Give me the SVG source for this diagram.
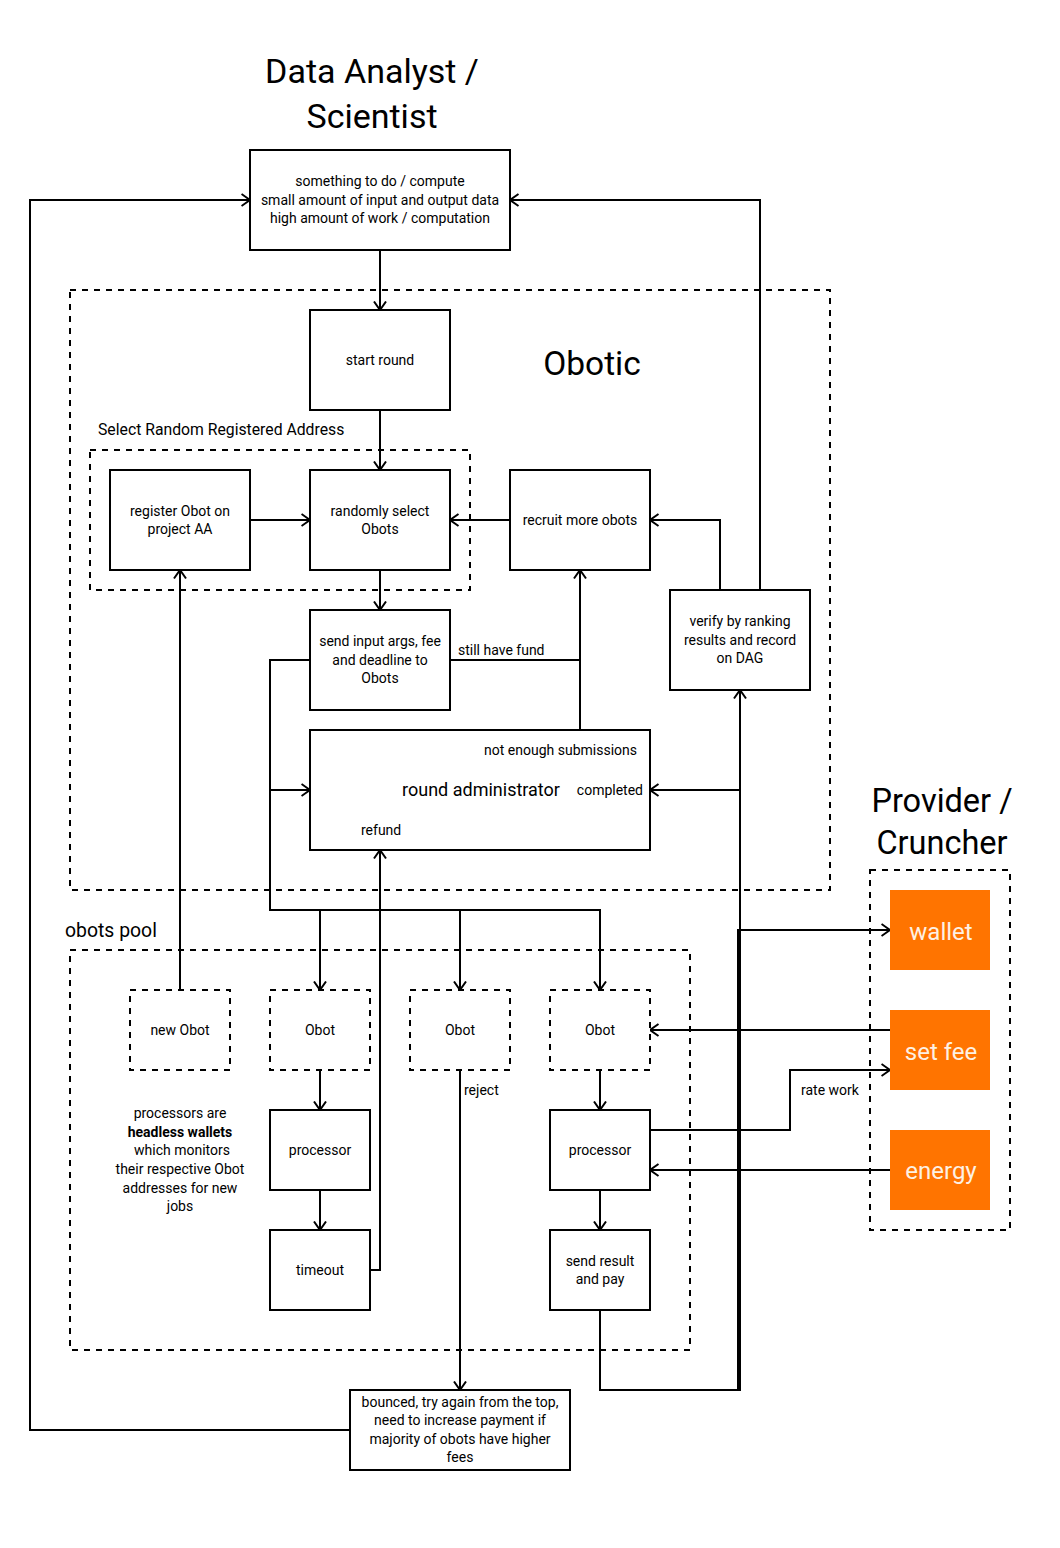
<svg xmlns="http://www.w3.org/2000/svg" width="1060" height="1548" viewBox="0 0 1060 1548">
<defs>
<marker id="arr" viewBox="0 0 10 14" markerWidth="10" markerHeight="14" refX="9.5" refY="7" orient="auto" markerUnits="userSpaceOnUse">
<path d="M1,1 L9.5,7 L1,13" fill="none" stroke="#000" stroke-width="2"/>
</marker>
</defs>
<style>
text{font-family:Roboto,"Liberation Sans",sans-serif;fill:#000}
.s{font-size:14px;text-anchor:middle}
.l{font-size:14px}
.box{fill:#fff;stroke:#000;stroke-width:2}
.dbox{fill:#fff;stroke:#000;stroke-width:2;stroke-dasharray:6 6}
.grp{fill:none;stroke:#000;stroke-width:2;stroke-dasharray:6 6}
.org{fill:#ff7400;stroke:none}
.ot{font-size:24px;text-anchor:middle;fill:#fdf1e4}
.title{text-anchor:middle}
.c{fill:none;stroke:#000;stroke-width:2}
.a{marker-end:url(#arr)}
</style>
<rect width="1060" height="1548" fill="#fff"/>

<g id="groups">
<rect class="grp" x="70" y="290" width="760" height="600"/>
<rect class="grp" x="90" y="450" width="380" height="140"/>
<rect class="grp" x="70" y="950" width="620" height="400"/>
<rect class="grp" x="870" y="870" width="140" height="360"/>
</g>

<g id="labels">
<text class="title" x="372" y="83" style="font-size:34px">Data Analyst /</text>
<text class="title" x="372" y="128" style="font-size:34px">Scientist</text>
<text class="title" x="592" y="375" style="font-size:33.5px">Obotic</text>
<text class="title" x="942" y="812" style="font-size:32.5px">Provider /</text>
<text class="title" x="942" y="854" style="font-size:32.5px">Cruncher</text>
<text x="98" y="435" style="font-size:15.75px">Select Random Registered Address</text>
<text x="65" y="937" style="font-size:19.4px">obots pool</text>
<text class="s" x="180" y="1118">processors are</text>
<text class="s" x="180" y="1137" style="font-weight:bold">headless wallets</text>
<text class="s" x="182" y="1155">which monitors</text>
<text class="s" x="180" y="1174">their respective Obot</text>
<text class="s" x="180" y="1193">addresses for new</text>
<text class="s" x="180" y="1211">jobs</text>
</g>

<g id="connectors">
<path class="c a" d="M380,250 V310"/>
<path class="c a" d="M380,410 V470"/>
<path class="c a" d="M250,520 H310"/>
<path class="c a" d="M510,520 H450"/>
<path class="c a" d="M380,570 V610"/>
<path class="c a" d="M580,730 V570"/>
<path class="c" d="M450,660 H580"/>
<path class="c a" d="M720,590 V520 H650"/>
<path class="c a" d="M760,590 V200 H510"/>
<path class="c a" d="M310,660 H270 V910 H600 V990"/>
<path class="c a" d="M270,790 H310"/>
<path class="c a" d="M320,910 V990"/>
<path class="c a" d="M460,910 V990"/>
<path class="c a" d="M180,990 V570"/>
<path class="c a" d="M370,1270 H380 V850"/>
<path class="c a" d="M320,1070 V1110"/>
<path class="c a" d="M320,1190 V1230"/>
<path class="c a" d="M460,1070 V1390"/>
<path class="c a" d="M600,1070 V1110"/>
<path class="c a" d="M600,1190 V1230"/>
<path class="c a" d="M600,1310 V1390 H740 V690"/>
<path class="c a" d="M740,790 H650"/>
<path class="c a" d="M600,1390 H738 V930 H890"/>
<path class="c a" d="M890,1030 H650"/>
<path class="c a" d="M650,1130 H790 V1070 H890"/>
<path class="c a" d="M890,1170 H650"/>
<path class="c a" d="M350,1430 H30 V200 H250"/>
<text class="l" x="458" y="655">still have fund</text>
<text class="l" x="464" y="1095">reject</text>
<text class="s" x="830" y="1095">rate work</text>
</g>

<g id="n-task">
<rect class="box" x="250" y="150" width="260" height="100"/>
<text class="s" x="380" y="186">something to do / compute</text>
<text class="s" x="380" y="205">small amount of input and output data</text>
<text class="s" x="380" y="223">high amount of work / computation</text>
</g>
<g id="n-start">
<rect class="box" x="310" y="310" width="140" height="100"/>
<text class="s" x="380" y="365">start round</text>
</g>
<g id="n-register">
<rect class="box" x="110" y="470" width="140" height="100"/>
<text class="s" x="180" y="516">register Obot on</text>
<text class="s" x="180" y="534">project AA</text>
</g>
<g id="n-randomly">
<rect class="box" x="310" y="470" width="140" height="100"/>
<text class="s" x="380" y="516">randomly select</text>
<text class="s" x="380" y="534">Obots</text>
</g>
<g id="n-recruit">
<rect class="box" x="510" y="470" width="140" height="100"/>
<text class="s" x="580" y="525">recruit more obots</text>
</g>
<g id="n-verify">
<rect class="box" x="670" y="590" width="140" height="100"/>
<text class="s" x="740" y="626">verify by ranking</text>
<text class="s" x="740" y="645">results and record</text>
<text class="s" x="740" y="663">on DAG</text>
</g>
<g id="n-send">
<rect class="box" x="310" y="610" width="140" height="100"/>
<text class="s" x="380" y="646">send input args, fee</text>
<text class="s" x="380" y="665">and deadline to</text>
<text class="s" x="380" y="683">Obots</text>
</g>
<g id="n-admin">
<rect class="box" x="310" y="730" width="340" height="120"/>
<text class="l" x="637" y="755" style="text-anchor:end">not enough submissions</text>
<text x="481" y="796" style="font-size:18px;text-anchor:middle">round administrator</text>
<text class="l" x="643" y="795" style="text-anchor:end">completed</text>
<text class="l" x="361" y="835">refund</text>
</g>
<g id="n-newobot">
<rect class="dbox" x="130" y="990" width="100" height="80"/>
<text class="s" x="180" y="1035">new Obot</text>
</g>
<g id="n-obot1">
<rect class="dbox" x="270" y="990" width="100" height="80"/>
<text class="s" x="320" y="1035">Obot</text>
</g>
<g id="n-obot2">
<rect class="dbox" x="410" y="990" width="100" height="80"/>
<text class="s" x="460" y="1035">Obot</text>
</g>
<g id="n-obot3">
<rect class="dbox" x="550" y="990" width="100" height="80"/>
<text class="s" x="600" y="1035">Obot</text>
</g>
<g id="n-proc1">
<rect class="box" x="270" y="1110" width="100" height="80"/>
<text class="s" x="320" y="1155">processor</text>
</g>
<g id="n-timeout">
<rect class="box" x="270" y="1230" width="100" height="80"/>
<text class="s" x="320" y="1275">timeout</text>
</g>
<g id="n-proc3">
<rect class="box" x="550" y="1110" width="100" height="80"/>
<text class="s" x="600" y="1155">processor</text>
</g>
<g id="n-result">
<rect class="box" x="550" y="1230" width="100" height="80"/>
<text class="s" x="600" y="1266">send result</text>
<text class="s" x="600" y="1284">and pay</text>
</g>
<g id="n-bounced">
<rect class="box" x="350" y="1390" width="220" height="80"/>
<text class="s" x="460" y="1407">bounced, try again from the top,</text>
<text class="s" x="460" y="1425">need to increase payment if</text>
<text class="s" x="460" y="1444">majority of obots have higher</text>
<text class="s" x="460" y="1462">fees</text>
</g>
<g id="n-wallet">
<rect class="org" x="890" y="890" width="100" height="80"/>
<text class="ot" x="941" y="940">wallet</text>
</g>
<g id="n-setfee">
<rect class="org" x="890" y="1010" width="100" height="80"/>
<text class="ot" x="941" y="1060">set fee</text>
</g>
<g id="n-energy">
<rect class="org" x="890" y="1130" width="100" height="80"/>
<text class="ot" x="941" y="1179">energy</text>
</g>
</svg>
